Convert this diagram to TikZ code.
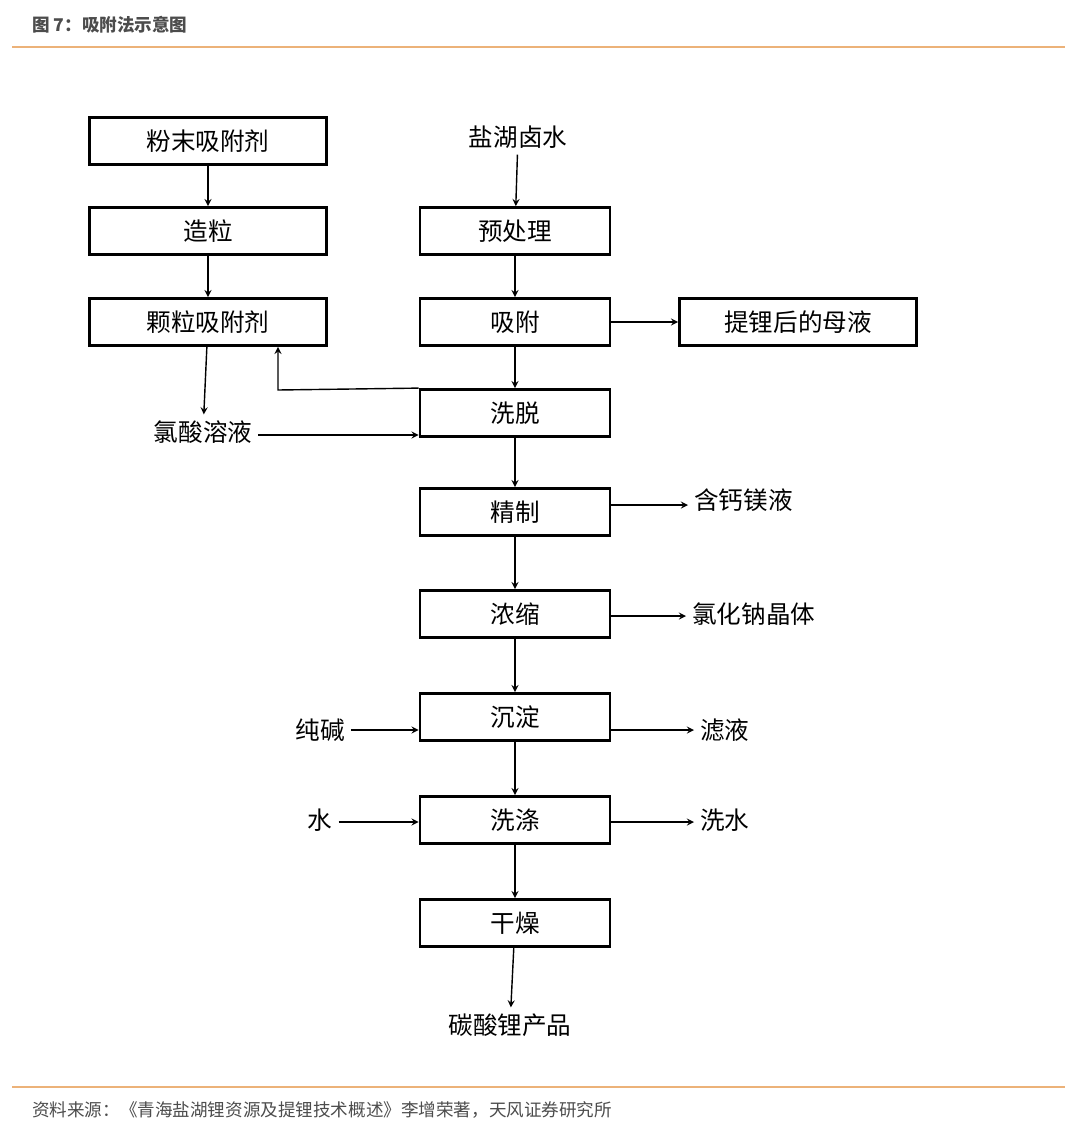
\documentclass[tikz,border=0pt]{standalone}
\usepackage{fontspec}
\setmainfont{Noto Sans CJK SC}
\begin{document}
\begin{tikzpicture}[x=0.02cm, y=-0.02cm,
    wide/.style={draw, line width=1.6pt, minimum width=4.74cm, minimum height=0.94cm, font=\fontsize{14}{16}\selectfont},
    narrow/.style={draw, line width=1.6pt, minimum width=3.8cm, minimum height=0.94cm, font=\fontsize{14}{16}\selectfont},
    lbl/.style={font=\fontsize{14}{16}\selectfont},
    arrow/.style={->, thick, >=stealth}
]
    \useasboundingbox (0,0) rectangle (1080,1139);
    % header and footer
    \node[anchor=west, text=black!70, font=\fontsize{10}{12}\selectfont\bfseries] (title) at (26,25) {图 7：吸附法示意图};
    \draw[color=orange!50!brown!60, line width=0.6pt] (12,47) -- (1065,47);
    \draw[color=orange!50!brown!60, line width=0.6pt] (12,1087) -- (1065,1087);
    \node[anchor=west, text=black!70, font=\fontsize{10}{12}\selectfont] (src) at (26,1110) {资料来源：《青海盐湖锂资源及提锂技术概述》李增荣著，天风证券研究所};

    % left column
    \node[wide] (powder) at (208,141) {粉末吸附剂};
    \node[wide] (granul) at (208,231) {造粒};
    \node[wide] (grain) at (208,322) {颗粒吸附剂};
    \node[lbl] (acid) at (203,432) {氯酸溶液};

    % main column
    \node[lbl] (brine) at (518,137) {盐湖卤水};
    \node[narrow] (pre) at (515,231) {预处理};
    \node[narrow] (adsorb) at (515,322) {吸附};
    \node[wide] (mother) at (798,322) {提锂后的母液};
    \node[narrow] (elute) at (515,413) {洗脱};
    \node[narrow] (refine) at (515,512) {精制};
    \node[narrow] (conc) at (515,614) {浓缩};
    \node[narrow] (precip) at (515,717) {沉淀};
    \node[narrow] (wash) at (515,820) {洗涤};
    \node[narrow] (dry) at (515,923) {干燥};
    \node[lbl] (product) at (510,1025) {碳酸锂产品};

    % side labels
    \node[lbl, anchor=west] (camg) at (688,500) {含钙镁液};
    \node[lbl, anchor=west] (nacl) at (686,614) {氯化钠晶体};
    \node[lbl] (soda) at (320,730) {纯碱};
    \node[lbl, anchor=west] (filt) at (694,730) {滤液};
    \node[lbl] (water) at (320,820) {水};
    \node[lbl, anchor=west] (washw) at (694,820) {洗水};
    \coordinate (turn) at (278,390);

    % main flow
    \draw[arrow] (powder) -- (granul);
    \draw[arrow] (granul) -- (grain);
    \draw[arrow] (grain) -- (acid);
    \draw[arrow] (brine) -- (pre);
    \draw[arrow] (pre) -- (adsorb);
    \draw[arrow] (adsorb) -- (elute);
    \draw[arrow] (elute) -- (refine);
    \draw[arrow] (refine) -- (conc);
    \draw[arrow] (conc) -- (precip);
    \draw[arrow] (precip) -- (wash);
    \draw[arrow] (wash) -- (dry);
    \draw[arrow] (dry) -- (product);

    % side flows
    \draw[arrow] (adsorb) -- (mother);
    \draw[arrow] (elute.north west) -- (turn) -- (grain.south -| turn);
    \draw[arrow] (acid.east |- 0,435) -- (elute.west |- 0,435);
    \draw[arrow] (refine.east |- 0,505) -- (camg.west |- 0,505);
    \draw[arrow] (conc.east |- 0,616) -- (nacl.west |- 0,616);
    \draw[arrow] (soda.east |- 0,730) -- (precip.west |- 0,730);
    \draw[arrow] (precip.east |- 0,730) -- (filt.west |- 0,730);
    \draw[arrow] (water.east |- 0,822) -- (wash.west |- 0,822);
    \draw[arrow] (wash.east |- 0,822) -- (washw.west |- 0,822);
\end{tikzpicture}
\end{document}
